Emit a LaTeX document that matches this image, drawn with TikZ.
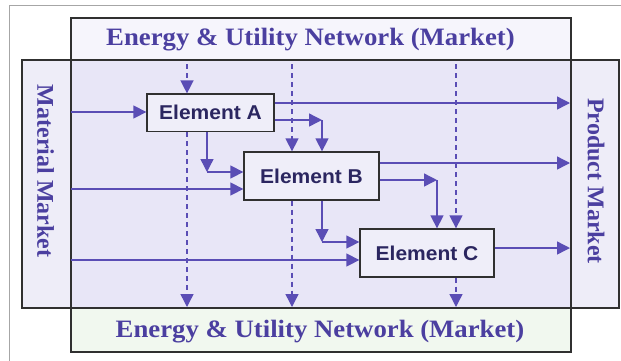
\documentclass[tikz,border=0pt]{standalone}
\usepackage{fontspec}
\setmainfont{Liberation Serif}
\newfontfamily\elfont{Liberation Sans}
\usetikzlibrary{arrows.meta}
\definecolor{arrowc}{HTML}{5A4DB5}
\definecolor{titlec}{HTML}{4B3FA0}
\definecolor{elemtext}{HTML}{2B2660}
\definecolor{boxline}{HTML}{303030}
\definecolor{mainfill}{HTML}{EEEDF8}
\definecolor{overfill}{HTML}{E8E6F7}
\definecolor{topfill}{HTML}{F6F5FC}
\definecolor{botfill}{HTML}{F1F8EF}
\definecolor{elemfill}{HTML}{EFEEF9}
\begin{document}
\begin{tikzpicture}[x=1pt,y=-1pt,
  elem/.style={draw=boxline, line width=1.3pt, fill=elemfill, inner sep=0pt,
    font=\elfont\bfseries\fontsize{20}{23}\selectfont, text=elemtext},
  arr/.style={draw=arrowc, line width=1.4pt, -{Triangle[length=13pt,width=13pt]}},
  darr/.style={arr, dash pattern=on 5pt off 4pt},
  mtitle/.style={font=\bfseries\fontsize{25}{28}\selectfont, text=titlec, inner sep=0pt},
  vtitle/.style={font=\bfseries\fontsize{24}{28}\selectfont, text=titlec, inner sep=0pt, rotate=-90},
  frame/.style={draw=boxline, line width=1.3pt}]
\useasboundingbox (0,0) rectangle (621,360);
% outer light frame
\draw[gray!70, line width=0.8pt] (9,361) -- (9,5.5) -- (622,5.5);
% backgrounds
\fill[topfill] (71,18) rectangle (571,60);
\fill[botfill] (71,308) rectangle (571,352);
\fill[mainfill] (22,60) rectangle (619,308);
\fill[overfill] (71,60) rectangle (571,308);
% outlines
\draw[frame] (71,18) rectangle (571,352);
\draw[frame] (22,60) rectangle (619,308);
% titles
\node[mtitle, anchor=base] (t1) at (310.5,45.7) {\scalebox{1.07}[1]{Energy \& Utility Network (Market)}};
\node[mtitle, anchor=base] (t2) at (320,337) {\scalebox{1.07}[1]{Energy \& Utility Network (Market)}};
\node[vtitle] (mm) at (45.5,171) {Material Market};
\node[vtitle] (pm) at (596,181) {Product Market};
% elements
\node[elem, minimum width=127pt, minimum height=37.5pt] (A) at (210.5,112.8) {\scalebox{1.05}[1]{Element A}};
\node[elem, minimum width=135pt, minimum height=48pt] (B) at (311.5,176) {\scalebox{1.05}[1]{Element B}};
\node[elem, minimum width=134pt, minimum height=48pt] (C) at (427,253) {\scalebox{1.05}[1]{Element C}};
% coordinates
\coordinate (m1) at (71,112);
\coordinate (m2) at (71,189);
\coordinate (m3) at (71,260);
\coordinate (p1) at (570,103);
\coordinate (p2) at (570,163);
\coordinate (p3) at (570,248);
\coordinate (cAB) at (322,120);
\coordinate (cAB2) at (207,172);
\coordinate (cBC) at (437,180);
\coordinate (cBC2) at (322,242);
\coordinate (d1) at (187,64);
\coordinate (d2) at (292,64);
\coordinate (d3) at (456,64);
\coordinate (e1) at (187,307);
\coordinate (e2) at (292,307);
\coordinate (e3) at (456,307);
% material inputs
\draw[arr] (m1) -- (m1 -| A.west);
\draw[arr] (m2) -- (m2 -| B.west);
\draw[arr] (m3) -- (m3 -| C.west);
% product outputs
\draw[arr] (p1 -| A.east) -- (p1);
\draw[arr] (p2 -| B.east) -- (p2);
\draw[arr] (p3 -| C.east) -- (p3);
% A -> B
\draw[arr] (cAB -| A.east) -- (cAB);
\draw[arr] (cAB) -- (cAB |- B.north);
\draw[arr] (cAB2 |- A.south) -- (cAB2);
\draw[arr] (cAB2) -- (cAB2 -| B.west);
% B -> C
\draw[arr] (cBC -| B.east) -- (cBC);
\draw[arr] (cBC) -- (cBC |- C.north);
\draw[arr] (cBC2 |- B.south) -- (cBC2);
\draw[arr] (cBC2) -- (cBC2 -| C.west);
% energy in
\draw[darr] (d1) -- (d1 |- A.north);
\draw[darr] (d2) -- (d2 |- B.north);
\draw[darr] (d3) -- (d3 |- C.north);
% energy out
\draw[darr] (e1 |- A.south) -- (e1);
\draw[darr] (e2 |- B.south) -- (e2);
\draw[darr] (e3 |- C.south) -- (e3);
\end{tikzpicture}
\end{document}
